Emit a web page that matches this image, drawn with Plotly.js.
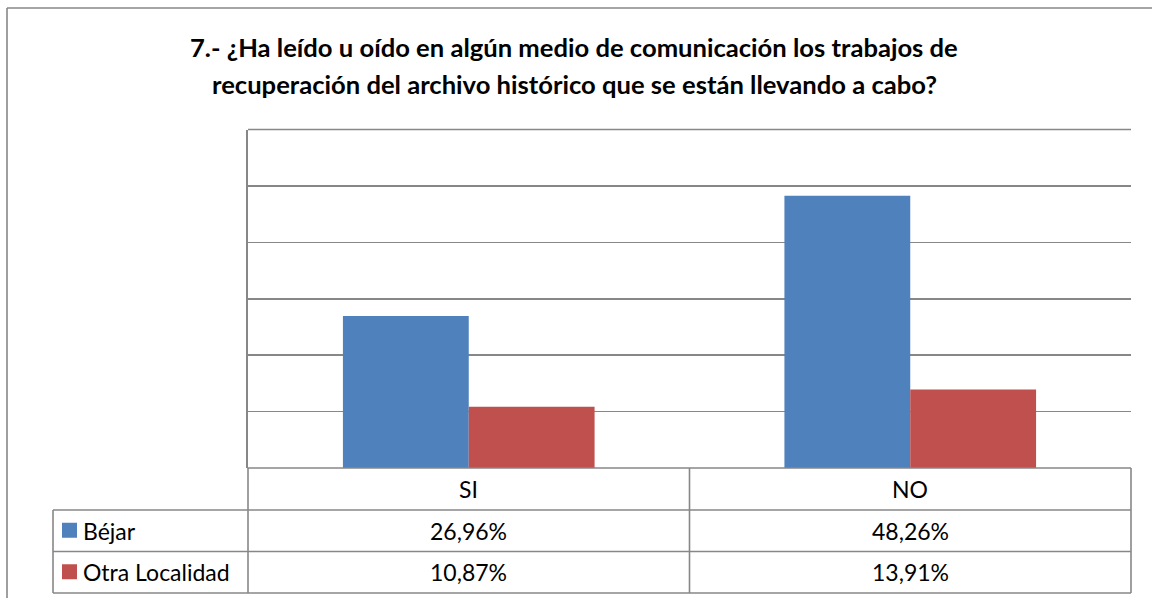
<!DOCTYPE html>
<html>
<head>
<meta charset="utf-8">
<script src="https://cdn.plot.ly/plotly-3.0.1.min.js"></script>
<style>
  html, body { margin: 0; padding: 0; background: #fff; }
  #plot { width: 1152px; height: 598px; }
</style>
</head>
<body>
<div id="plot"></div>
<script>
const categories = ['SI', 'NO'];
const seriesNames = ['Béjar', 'Otra Localidad'];
const bejar = [26.96, 48.26];
const otraLocalidad = [10.87, 13.91];
const colors = ['#4F81BD', '#C0504D'];
const titleLines = [
    '7.- ¿Ha leído u oído en algún medio de comunicación los trabajos de',
    'recuperación del archivo histórico que se están llevando a cabo?'
];

const W = 1152, H = 598;
const px = x => x / W;
const py = y => 1 - y / H;
const grey = '#878787';
const font = 'Lato, "Open Sans", sans-serif';

const values = [bejar, otraLocalidad];
const fmt = v => v.toFixed(2).replace('.', ',') + '%';

const data = values.map((vals, i) => ({
    x: categories,
    y: vals,
    name: seriesNames[i],
    type: 'bar',
    marker: { color: colors[i] },
    hoverinfo: 'skip',
}));

// table geometry (pixels)
const tableTop = 468, rowH = [510, 551.5, 593];
const legendLeft = 53, plotLeft = 248, plotRight = 1131;

const line = (x0, y0, x1, y1, xref) => ({
    type: 'line', xref: xref || 'paper', yref: 'paper',
    x0, y0, x1, y1,
    line: { color: grey, width: 1.6 },
});

const shapes = [
    // outer frame
    line(px(7), py(8), px(1152), py(8)),
    line(px(7), py(8), px(7), py(598)),
    // top edge of plot area
    line(px(plotLeft), py(129.5), px(plotRight), py(129.5)),
    // table horizontals
    line(px(plotLeft), py(tableTop), px(plotRight), py(tableTop)),
    line(px(legendLeft), py(rowH[0]), px(plotRight), py(rowH[0])),
    line(px(legendLeft), py(rowH[1]), px(plotRight), py(rowH[1])),
    line(px(legendLeft), py(rowH[2]), px(plotRight), py(rowH[2])),
    // table verticals
    line(px(legendLeft), py(rowH[0]), px(legendLeft), py(rowH[2])),
    line(px(plotLeft), py(tableTop), px(plotLeft), py(rowH[2])),
    line(px(plotRight), py(tableTop), px(plotRight), py(rowH[2])),
];
for (let i = 0; i < categories.length - 1; i++) {
    shapes.push(line(i + 0.5, py(tableTop), i + 0.5, py(rowH[2]), 'x'));
}

const annotations = [];
titleLines.forEach((t, i) => {
    annotations.push({
        xref: 'paper', yref: 'paper', x: px(574), y: py(47 + i * 37),
        text: '<b>' + t + '</b>', showarrow: false,
        xanchor: 'center', yanchor: 'middle',
        font: { family: font, size: 25.6, color: '#000' },
    });
});
categories.forEach((c, i) => {
    annotations.push({
        xref: 'x', yref: 'paper', x: i, y: py((tableTop + rowH[0]) / 2),
        text: c, showarrow: false, xanchor: 'center', yanchor: 'middle',
        font: { family: font, size: 23, color: '#000' },
    });
});
const rowTops = [rowH[0], rowH[1]];
const rowBots = [rowH[1], rowH[2]];
values.forEach((vals, s) => {
    const cy = (rowTops[s] + rowBots[s]) / 2;
    shapes.push({
        type: 'rect', xref: 'paper', yref: 'paper',
        x0: px(62), x1: px(77), y0: py(cy - 8), y1: py(cy + 7),
        fillcolor: colors[s], line: { width: 0 },
    });
    annotations.push({
        xref: 'paper', yref: 'paper', x: px(81), y: py(cy),
        text: seriesNames[s], showarrow: false, xanchor: 'left', yanchor: 'middle',
        font: { family: font, size: 23, color: '#000' },
    });
    vals.forEach((v, i) => {
        annotations.push({
            xref: 'x', yref: 'paper', x: i, y: py(cy),
            text: fmt(v), showarrow: false, xanchor: 'center', yanchor: 'middle',
            font: { family: font, size: 23, color: '#000' },
        });
    });
});

const layout = {
    width: W,
    height: H,
    margin: { l: 0, r: 0, t: 0, b: 0 },
    paper_bgcolor: '#fff',
    plot_bgcolor: '#fff',
    showlegend: false,
    barmode: 'group',
    bargap: 0.43,
    bargroupgap: 0,
    xaxis: {
        domain: [px(plotLeft), px(plotRight)],
        range: [-0.5, 1.5],
        showticklabels: false,
        ticks: '',
        showgrid: false,
        zeroline: false,
        showline: false,
        fixedrange: true,
    },
    yaxis: {
        domain: [py(468), py(129.5)],
        range: [0, 60],
        dtick: 10,
        showticklabels: false,
        ticks: '',
        showgrid: true,
        gridcolor: grey,
        gridwidth: 1.6,
        zeroline: false,
        showline: true,
        linecolor: grey,
        linewidth: 1.6,
        fixedrange: true,
    },
    shapes,
    annotations,
};

Plotly.newPlot('plot', data, layout, { displayModeBar: false, staticPlot: true });
</script>
</body>
</html>
